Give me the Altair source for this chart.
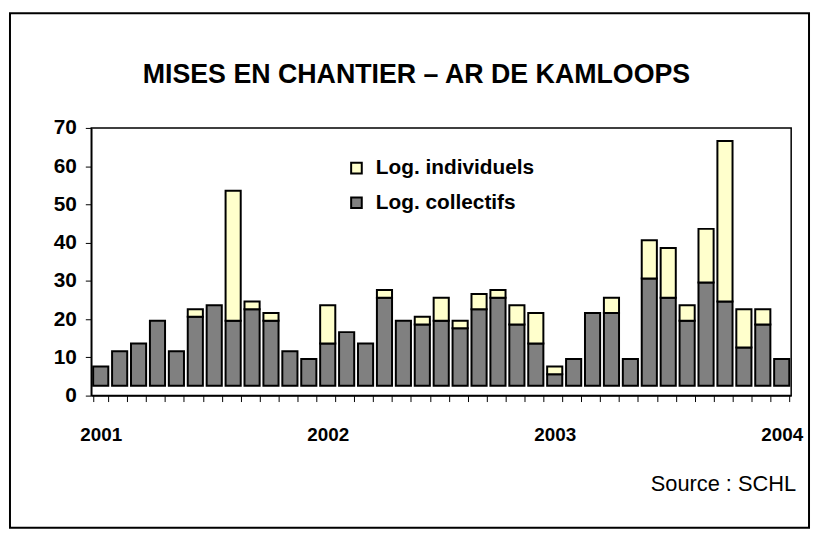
import altair as alt
import pandas as pd

# Monthly categories: Jan 2001 .. Jan 2004 (37 months)
years = [2001, 2002, 2003, 2004]
months = [f"{y}-{m:02d}" for y in years for m in range(1, 13)][:37]

# (units of starts)
collectifs = [5, 9, 11, 17, 9, 18, 21, 17, 20, 17, 9, 7,
              11, 14, 11, 23, 17, 16, 17, 15, 20, 23, 16, 11,
              3, 7, 19, 19, 7, 28, 23, 17, 27, 22, 10, 16, 7]
individuels = [0, 0, 0, 0, 0, 2, 0, 34, 2, 2, 0, 0,
               10, 0, 0, 2, 0, 2, 6, 2, 4, 2, 5, 8,
               2, 0, 0, 4, 0, 10, 13, 4, 14, 42, 10, 4, 0]
base = 2.6  # bars in the original are drawn from a small offset above 0

series_names = ["Log. individuels", "Log. collectifs"]
series_colors = ["#FFFFCC", "#808080"]
title_text = "MISES EN CHANTIER – AR DE KAMLOOPS"
source_text = "Source : SCHL"

rows = []
for m, c, i in zip(months, collectifs, individuels):
    rows.append({"mois": m, "serie": "Log. collectifs", "y0": base, "y1": base + c})
    if i > 0:
        rows.append({"mois": m, "serie": "Log. individuels", "y0": base + c, "y1": base + c + i})
df = pd.DataFrame(rows)

FONT = "Liberation Sans"

x_enc = alt.X(
    "mois:O", sort=months,
    scale=alt.Scale(paddingInner=0.2, paddingOuter=0.1),
    axis=alt.Axis(
        title=None, labelAngle=0, tickBand="extent", tickSize=6, tickColor="black",
        tickWidth=1, domainColor="black", domainWidth=1.5,
        labelExpr="substring(datum.value,5,7)=='01' ? substring(datum.value,0,4) : ''",
        labelOverlap=False, labelFontSize=19, labelFontWeight="bold", labelFont=FONT,
        labelColor="black", labelPadding=24, labelBaseline="top",
    ),
)

bars = alt.Chart(df).mark_bar(stroke="black", strokeWidth=2).encode(
    x=x_enc,
    y=alt.Y("y0:Q", scale=alt.Scale(domain=[0, 70], nice=False),
            axis=alt.Axis(title=None, values=list(range(0, 71, 10)), tickSize=6,
                          tickColor="black", domainColor="black", domainWidth=1.5,
                          grid=False, labelFontSize=21, labelFontWeight="bold",
                          labelFont=FONT, labelColor="black", labelPadding=9)),
    y2="y1:Q",
    fill=alt.Fill("serie:N", scale=alt.Scale(domain=series_names, range=series_colors),
                  legend=alt.Legend(title=None, orient="none", legendX=257, legendY=30,
                                    symbolType="square", symbolSize=115,
                                    symbolStrokeColor="black", symbolStrokeWidth=2,
                                    labelFontSize=21, labelFontWeight="bold",
                                    labelFont=FONT, labelColor="black",
                                    rowPadding=13, labelOffset=9, padding=0)),
)

frame = alt.Chart(pd.DataFrame({"k": [0]})).mark_rect(
    fill=None, stroke="black", strokeWidth=2, clip=False
).encode(x=alt.value(-82), x2=alt.value(724), y=alt.value(-115.7), y2=alt.value(403.3))

source = alt.Chart(pd.DataFrame({"t": [source_text]})).mark_text(
    align="right", baseline="alphabetic", fontSize=22, font=FONT, color="black"
).encode(text="t:N", x=alt.value(711), y=alt.value(366))

title = alt.Chart(pd.DataFrame({"t": [title_text]})).mark_text(
    align="center", baseline="alphabetic", fontSize=27, fontWeight="bold",
    font=FONT, color="black"
).encode(text="t:N", x=alt.value(328), y=alt.value(-45))

chart = alt.layer(bars, frame, source, title).properties(
    width=706, height=270,
    padding={"left": 84, "top": 118.7, "right": 20, "bottom": 134.3},
    autosize="none",
).configure_view(stroke="black", strokeWidth=1.5)

chart.save("out.html", embed_options={"renderer": "svg", "actions": False})
